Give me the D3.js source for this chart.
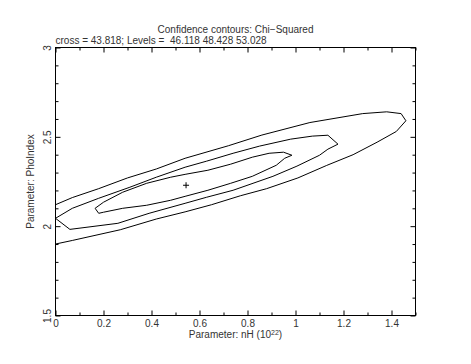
<!DOCTYPE html>
<html>
<head>
<meta charset="utf-8">
<script src="https://cdn.jsdelivr.net/npm/d3@7"></script>
<style>
  body { margin: 0; background: #fff; }
  svg text { font-family: "Liberation Sans", Arial, Helvetica, sans-serif; font-size: 10px; fill: #333; }
  .contour { fill: none; stroke: #000; stroke-width: 1; }
</style>
</head>
<body>
<div class="container"></div>
<script>
// Labels
var TITLE = 'Confidence contours: Chi\u2212Squared';
var SUBTITLE = 'cross = 43.818; Levels =  46.118 48.428 53.028';
var X_TITLE = 'Parameter: nH (10';
var X_TITLE_SUP = '22';
var Y_TITLE = 'Parameter: PhoIndex';

// Axis ticks
var X_MAJOR = [0, 0.2, 0.4, 0.6, 0.8, 1, 1.2, 1.4];
var X_MINOR = [0.1, 0.3, 0.5, 0.7, 0.9, 1.1, 1.3, 1.5];
var Y_MAJOR = [1.5, 2, 2.5, 3];
var Y_MINOR = [1.6, 1.7, 1.8, 1.9, 2.1, 2.2, 2.3, 2.4, 2.6, 2.7, 2.8, 2.9];

// Best fit (cross)
var CROSS_X = 0.544;
var CROSS_Y = 2.229;

// Contour level 53.028 (outer)
var OUTER_X = [0, 0.07, 0.18, 0.30, 0.42, 0.54, 0.72, 0.86, 1.06, 1.28, 1.38, 1.44, 1.46, 1.42, 1.34, 1.24, 1.13, 1.01, 0.88, 0.77, 0.65, 0.54, 0.42, 0.27, 0.07, 0];
var OUTER_Y = [2.12, 2.16, 2.21, 2.27, 2.32, 2.38, 2.45, 2.51, 2.58, 2.63, 2.64, 2.63, 2.59, 2.53, 2.47, 2.40, 2.34, 2.27, 2.21, 2.17, 2.12, 2.08, 2.04, 1.98, 1.92, 1.90];

// Contour level 48.428 (middle)
var MIDDLE_X = [0, 0.07, 0.18, 0.31, 0.42, 0.54, 0.63, 0.74, 0.85, 0.98, 1.07, 1.135, 1.177, 1.135, 1.10, 1.006, 0.906, 0.823, 0.74, 0.63, 0.54, 0.39, 0.26, 0.06, 0];
var MIDDLE_Y = [2.044, 2.100, 2.156, 2.218, 2.274, 2.330, 2.364, 2.408, 2.448, 2.487, 2.504, 2.509, 2.459, 2.431, 2.397, 2.336, 2.279, 2.240, 2.201, 2.162, 2.128, 2.072, 2.016, 1.982, 2.044];

// Contour level 46.118 (inner)
var INNER_X = [0.165, 0.20, 0.28, 0.38, 0.48, 0.54, 0.635, 0.73, 0.82, 0.89, 0.95, 0.985, 0.955, 0.92, 0.82, 0.73, 0.635, 0.54, 0.48, 0.38, 0.28, 0.20, 0.18, 0.165];
var INNER_Y = [2.100, 2.134, 2.190, 2.240, 2.274, 2.290, 2.313, 2.347, 2.386, 2.408, 2.414, 2.397, 2.380, 2.341, 2.279, 2.240, 2.201, 2.167, 2.145, 2.117, 2.100, 2.078, 2.072, 2.100];

var W = 471, H = 364;
var margin = {top: 47.5, left: 55.5, right: 55.5, bottom: 48.5};
var width = W - margin.left - margin.right;
var height = H - margin.top - margin.bottom;

var xScale = d3.scaleLinear().domain([0, 1.5]).range([0, width]);
var yScale = d3.scaleLinear().domain([1.5, 3]).range([height, 0]);

var svg = d3.select('.container').append('svg')
    .attr('width', W)
    .attr('height', H);

// Titles
svg.append('text')
    .attr('x', margin.left + width / 2)
    .attr('y', 33)
    .style('text-anchor', 'middle')
    .text(TITLE);

svg.append('text')
    .attr('x', margin.left)
    .attr('y', 44)
    .style('white-space', 'pre')
    .text(SUBTITLE);

var g = svg.append('g')
    .attr('transform', 'translate(' + margin.left + ',' + margin.top + ')');

g.append('clipPath').attr('id', 'plotclip')
  .append('rect').attr('width', width).attr('height', height);

// Ticks pointing inward on all four sides
function tickAxis(axis, vals, size, label) {
  return axis.tickValues(vals).tickSize(-size).tickPadding(4)
    .tickFormat(label ? d3.format('') : '');
}

var axes = [
  {fn: d3.axisBottom, scale: xScale, t: 'translate(0,' + height + ')', major: X_MAJOR, minor: X_MINOR, lab: true},
  {fn: d3.axisTop, scale: xScale, t: 'translate(0,0)', major: X_MAJOR, minor: X_MINOR, lab: false},
  {fn: d3.axisLeft, scale: yScale, t: 'translate(0,0)', major: Y_MAJOR, minor: Y_MINOR, lab: true},
  {fn: d3.axisRight, scale: yScale, t: 'translate(' + width + ',0)', major: Y_MAJOR, minor: Y_MINOR, lab: false}
];

axes.forEach(function(a, i) {
  var gm = g.append('g').attr('class', 'axis a' + i).attr('transform', a.t)
      .call(tickAxis(a.fn(a.scale), a.major, 5, a.lab));
  g.append('g').attr('transform', a.t)
      .call(tickAxis(a.fn(a.scale), a.minor, 3, false))
      .selectAll('.domain').remove();
  gm.selectAll('.domain').remove();
  gm.selectAll('line').attr('stroke', '#000');
  gm.selectAll('text').attr('fill', '#333')
    .attr('font-family', null).attr('font-size', null);
});
g.selectAll('.tick line').attr('stroke', '#000');

// bottom labels just under the frame
g.select('.a0').selectAll('.tick text').attr('y', 4).attr('dy', '0.71em');

// y tick labels rotated
g.select('.a2').selectAll('.tick text')
    .attr('x', null).attr('dy', null)
    .attr('transform', 'translate(-4.5,0) rotate(-90)')
    .attr('y', 0)
    .style('text-anchor', 'middle');

// Frame
g.append('rect')
    .attr('width', width)
    .attr('height', height)
    .attr('fill', 'none')
    .attr('stroke', '#000')
    .attr('stroke-width', 1);

// Contours
var line = d3.line()
    .x(function(d) { return xScale(d[0]); })
    .y(function(d) { return yScale(d[1]); });

function zipXY(xs, ys) {
  return xs.map(function(v, i) { return [v, ys[i]]; });
}

var contours = g.append('g').attr('clip-path', 'url(#plotclip)');
[[OUTER_X, OUTER_Y], [MIDDLE_X, MIDDLE_Y], [INNER_X, INNER_Y]].forEach(function(c) {
  contours.append('path')
      .datum(zipXY(c[0], c[1]))
      .attr('class', 'contour')
      .attr('d', line);
});

// Cross at best fit
var cx = xScale(CROSS_X), cy = yScale(CROSS_Y);
g.append('path')
    .attr('d', 'M' + (cx - 3) + ',' + cy + 'H' + (cx + 3) + 'M' + cx + ',' + (cy - 3) + 'V' + (cy + 3))
    .attr('stroke', '#000')
    .attr('stroke-width', 1);

// Axis titles
var xt = svg.append('text')
    .attr('x', margin.left + width / 2)
    .attr('y', 338)
    .style('text-anchor', 'middle');
xt.append('tspan').text(X_TITLE);
xt.append('tspan').attr('dy', -3.5).style('font-size', '7px').text(X_TITLE_SUP);
xt.append('tspan').attr('dy', 3.5).text(')');

svg.append('text')
    .attr('transform', 'translate(33.5,' + (margin.top + height / 2) + ') rotate(-90)')
    .style('text-anchor', 'middle')
    .text(Y_TITLE);
</script>
</body>
</html>
